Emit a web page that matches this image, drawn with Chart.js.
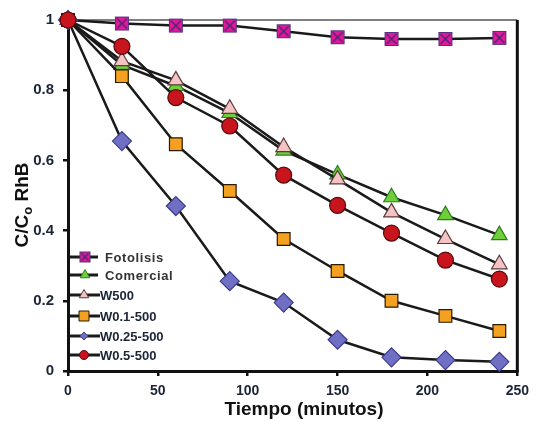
<!DOCTYPE html>
<html>
<head>
<meta charset="utf-8">
<script src="https://cdn.jsdelivr.net/npm/chart.js@4.4.0/dist/chart.umd.min.js"></script>
<style>
  html, body { margin: 0; padding: 0; background: #fff; }
  #wrap { width: 536px; height: 422px; }
</style>
</head>
<body>
<div id="wrap"><canvas id="grafico" width="536" height="422"></canvas></div>
<script>
const tiempos = [0, 30, 60, 90, 120, 150, 180, 210, 240];
const fotolisis = [1, 0.99, 0.984, 0.984, 0.968, 0.951, 0.946, 0.946, 0.949];
const comercial = [1, 0.872, 0.812, 0.735, 0.628, 0.56, 0.495, 0.444, 0.387];
const w500 = [1, 0.883, 0.828, 0.747, 0.638, 0.546, 0.452, 0.376, 0.304];
const w01 = [1, 0.84, 0.646, 0.513, 0.376, 0.285, 0.2, 0.157, 0.114];
const w025 = [1, 0.655, 0.47, 0.256, 0.195, 0.089, 0.039, 0.031, 0.026];
const w05 = [1, 0.925, 0.779, 0.698, 0.558, 0.472, 0.393, 0.316, 0.262];
const xTickLabels = ["0", "50", "100", "150", "200", "250"];
const yTickLabels = ["0", "0.2", "0.4", "0.6", "0.8", "1"];

const FUENTE = "'Liberation Sans', Arial, sans-serif";
const TINTA = "#1b2535";
const LINEA = "#1a1a1a";

// square with an X, used for Fotolisis
function cuadroX(lado) {
  const c = document.createElement("canvas");
  const s = Math.ceil(lado + 3);
  c.width = s;
  c.height = s;
  const g = c.getContext("2d");
  const o = (s - lado) / 2;
  g.fillStyle = "#e2189b";
  g.fillRect(o, o, lado, lado);
  g.strokeStyle = "#5b2f80";
  g.lineWidth = 1;
  g.strokeRect(o, o, lado, lado);
  g.strokeStyle = "#3a2a70";
  g.lineWidth = 1.2;
  g.beginPath();
  g.moveTo(o + 1.5, o + 1.5);
  g.lineTo(o + lado - 1.5, o + lado - 1.5);
  g.moveTo(o + lado - 1.5, o + 1.5);
  g.lineTo(o + 1.5, o + lado - 1.5);
  g.stroke();
  return c;
}

const puntos = (ys) => tiempos.map((t, i) => ({ x: t, y: ys[i] }));

const series = [
  { label: "Fotolisis", data: fotolisis, pointStyle: cuadroX(13), radius: 7, fill: "#e2189b", stroke: "#5b2f80", order: 6 },
  { label: "Comercial", data: comercial, pointStyle: "triangle", radius: 9, fill: "#6fcf3a", stroke: "#2f7d1c", order: 5 },
  { label: "W500", data: w500, pointStyle: "triangle", radius: 9, fill: "#f4c3c3", stroke: "#5a3a3a", order: 4 },
  { label: "W0.1-500", data: w01, pointStyle: "rect", radius: 9, fill: "#f4a020", stroke: "#2a1a00", order: 3 },
  { label: "W0.25-500", data: w025, pointStyle: "rectRot", radius: 9.5, fill: "#6f6fc4", stroke: "#3c3c8c", order: 2 },
  { label: "W0.5-500", data: w05, pointStyle: "circle", radius: 8, fill: "#c8141c", stroke: "#5a0a0a", order: 1 },
];

function marca(ctx, estilo, x, y, r, fill, stroke) {
  ctx.save();
  ctx.fillStyle = fill;
  ctx.strokeStyle = stroke;
  ctx.lineWidth = 1;
  ctx.beginPath();
  if (estilo === "circle") {
    ctx.arc(x, y, r, 0, Math.PI * 2);
  } else if (estilo === "triangle") {
    ctx.moveTo(x, y - r);
    ctx.lineTo(x + r * 0.866, y + r * 0.5);
    ctx.lineTo(x - r * 0.866, y + r * 0.5);
    ctx.closePath();
  } else if (estilo === "rect") {
    ctx.rect(x - r, y - r, 2 * r, 2 * r);
  } else if (estilo === "rectRot") {
    ctx.moveTo(x, y - r);
    ctx.lineTo(x + r, y);
    ctx.lineTo(x, y + r);
    ctx.lineTo(x - r, y);
    ctx.closePath();
  }
  ctx.fill();
  ctx.stroke();
  ctx.restore();
}

// legend inside the plot, lower left
const leyenda = [
  { y: 257, x0: 70, x1: 98, mx: 85, tx: 105, estilo: "img", r: 5, spacing: "0.6px", color: "#333" },
  { y: 275, x0: 70, x1: 98, mx: 85, tx: 105, estilo: "triangle", r: 5.5, spacing: "0.6px", color: "#333" },
  { y: 295, x0: 70, x1: 100, mx: 84, tx: 100, estilo: "triangle", r: 5.5, spacing: "0px", color: TINTA },
  { y: 316, x0: 70, x1: 100, mx: 84, tx: 100, estilo: "rect", r: 5, spacing: "0px", color: TINTA },
  { y: 336, x0: 70, x1: 100, mx: 84, tx: 100, estilo: "rectRot", r: 4, spacing: "0px", color: TINTA },
  { y: 355, x0: 70, x1: 100, mx: 84, tx: 100, estilo: "circle", r: 4.5, spacing: "0px", color: TINTA },
];

const extras = {
  id: "extras",
  beforeDatasetsDraw(chart) {
    const { ctx, chartArea: a } = chart;
    ctx.save();
    ctx.strokeStyle = "#555";
    ctx.lineWidth = 1.5;
    ctx.beginPath();
    ctx.moveTo(a.left, a.top);
    ctx.lineTo(a.right, a.top);
    ctx.stroke();
    ctx.strokeStyle = "#111";
    ctx.lineWidth = 3;
    ctx.beginPath();
    ctx.moveTo(a.right, a.top);
    ctx.lineTo(a.right, a.bottom + 1.5);
    ctx.stroke();
    ctx.restore();
  },
  afterDraw(chart) {
    const ctx = chart.ctx;
    ctx.save();
    // legend
    leyenda.forEach((l, i) => {
      const s = series[i];
      ctx.strokeStyle = LINEA;
      ctx.lineWidth = 3;
      ctx.beginPath();
      ctx.moveTo(l.x0, l.y);
      ctx.lineTo(l.x1, l.y);
      ctx.stroke();
      if (l.estilo === "img") {
        const img = cuadroX(10);
        ctx.drawImage(img, l.mx - img.width / 2, l.y - img.height / 2);
      } else {
        marca(ctx, l.estilo, l.mx, l.y, l.r, s.fill, s.stroke);
      }
      ctx.fillStyle = l.color;
      ctx.font = "bold 13px " + FUENTE;
      ctx.letterSpacing = l.spacing;
      ctx.textAlign = "left";
      ctx.textBaseline = "middle";
      ctx.fillText(s.label, l.tx, l.y + 1);
    });
    ctx.letterSpacing = "0px";

    // x title
    ctx.fillStyle = "#111";
    ctx.font = "bold 19px " + FUENTE;
    ctx.textAlign = "center";
    ctx.textBaseline = "middle";
    ctx.fillText("Tiempo (minutos)", 304, 410);

    // y title with subscript
    ctx.translate(23, 205);
    ctx.rotate(-Math.PI / 2);
    const f1 = "bold 19px " + FUENTE;
    const f2 = "bold 13px " + FUENTE;
    ctx.font = f1;
    const a = ctx.measureText("C/C").width;
    const c = ctx.measureText(" RhB").width;
    ctx.font = f2;
    const b = ctx.measureText("o").width;
    let x = -(a + b + c) / 2;
    ctx.textAlign = "left";
    ctx.textBaseline = "middle";
    ctx.font = f1;
    ctx.fillText("C/C", x, 0);
    x += a;
    ctx.font = f2;
    ctx.fillText("o", x, 5);
    x += b;
    ctx.font = f1;
    ctx.fillText(" RhB", x, 0);
    ctx.restore();
  },
};

new Chart(document.getElementById("grafico"), {
  type: "line",
  data: {
    datasets: series.map((s) => ({
      label: s.label,
      data: puntos(s.data),
      order: s.order,
      borderColor: LINEA,
      borderWidth: 2.5,
      tension: 0,
      fill: false,
      pointStyle: s.pointStyle,
      pointRadius: s.radius,
      pointBackgroundColor: s.fill,
      pointBorderColor: s.stroke,
      pointBorderWidth: 1.2,
      clip: false,
    })),
  },
  options: {
    responsive: false,
    animation: false,
    layout: { padding: { top: 20, right: 15, left: 0, bottom: 0 } },
    plugins: {
      legend: { display: false },
      tooltip: { enabled: false },
    },
    scales: {
      x: {
        type: "linear",
        min: 0,
        max: 250,
        afterFit: (s) => { s.height = 51; },
        ticks: {
          stepSize: 50,
          padding: 7,
          color: TINTA,
          font: { family: FUENTE, size: 14, weight: "bold" },
          callback: (v, i) => xTickLabels[i],
        },
        grid: { drawOnChartArea: false, drawTicks: true, tickLength: 5, color: "#111", lineWidth: 2.5 },
        border: { color: "#111", width: 3 },
      },
      y: {
        min: 0,
        max: 1,
        afterFit: (s) => { s.width = 68; },
        ticks: {
          stepSize: 0.2,
          padding: 9,
          color: TINTA,
          font: { family: FUENTE, size: 15, weight: "bold" },
          callback: (v, i) => yTickLabels[i],
        },
        grid: { drawOnChartArea: false, drawTicks: true, tickLength: 5, color: "#111", lineWidth: 2.5 },
        border: { color: "#111", width: 3 },
      },
    },
  },
  plugins: [extras],
});
</script>
</body>
</html>
